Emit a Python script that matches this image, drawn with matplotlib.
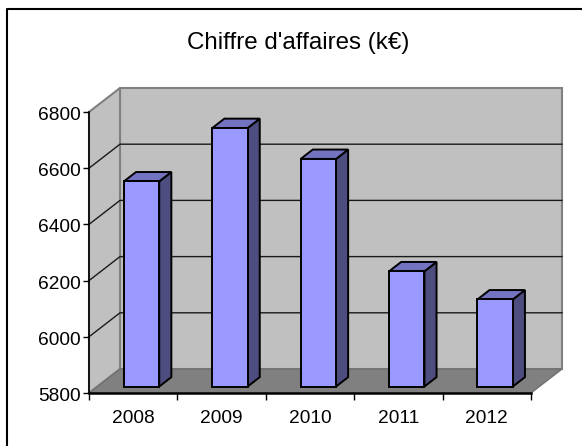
import numpy as np
from matplotlib import pyplot as plt
from matplotlib.lines import Line2D
from matplotlib.patches import Polygon
from matplotlib.transforms import ScaledTranslation

plt.rcParams['font.family'] = ['Liberation Sans', 'DejaVu Sans']

years = ['2008', '2009', '2010', '2011', '2012']
sales = [6530, 6720, 6610, 6210, 6110]
y_ticks = [5800, 6000, 6200, 6400, 6600, 6800]

W, H = 582, 446
# depth of the fake 3d box, in data units
DEPTH_X = 31 / 88.4
DEPTH_Y = 24 / 0.281
BAR_W = 0.4
Z0, Z1 = 0.27, 0.66


def project(x, y, z):
    return (x + z * DEPTH_X, y + z * DEPTH_Y)


def face(ax, pts, color, edge='black', lw=1.4, zo=2):
    ax.add_patch(Polygon([project(*p) for p in pts], closed=True, facecolor=color,
                         edgecolor=edge, linewidth=lw, joinstyle='miter', clip_on=False, zorder=zo))


fig = plt.figure(figsize=(W / 100, H / 100), dpi=100)
ax = fig.add_axes([89 / W, 1 - 393 / H, (531 - 89) / W, (393 - 112) / H])
ymin, ymax = y_ticks[0], y_ticks[-1]
n = len(years)
ax.set_xlim(0, n)
ax.set_ylim(ymin, ymax)
ax.patch.set_visible(False)

# walls and floor
face(ax, [(0, ymin, 1), (n, ymin, 1), (n, ymax, 1), (0, ymax, 1)], '#c0c0c0', '#808080', 1.5, 1)
face(ax, [(0, ymin, 0), (0, ymin, 1), (0, ymax, 1), (0, ymax, 0)], '#c0c0c0', '#808080', 1.5, 1)
face(ax, [(0, ymin, 0), (n, ymin, 0), (n, ymin, 1), (0, ymin, 1)], '#808080', '#707070', 1.0, 1)

# gridlines run along the side wall then the back wall
for v in y_ticks[1:-1]:
    xs, ys = zip(project(0, v, 0), project(0, v, 1), project(n, v, 1))
    ax.plot(xs, ys, color='#1a1a1a', lw=1.0, clip_on=False, zorder=1.5)

for i, v in enumerate(sales):
    x0, x1 = i + 0.5 - BAR_W / 2, i + 0.5 + BAR_W / 2
    face(ax, [(x1, ymin, Z0), (x1, ymin, Z1), (x1, v, Z1), (x1, v, Z0)], '#4d4d80')
    face(ax, [(x0, v, Z0), (x1, v, Z0), (x1, v, Z1), (x0, v, Z1)], '#7373bf')
    face(ax, [(x0, ymin, Z0), (x1, ymin, Z0), (x1, v, Z0), (x0, v, Z0)], '#9999ff')

for s in ['top', 'right']:
    ax.spines[s].set_visible(False)
ax.spines['left'].set_linewidth(1.2)
ax.spines['left'].set_zorder(3)
ax.spines['bottom'].set_linewidth(1.8)
ax.spines['bottom'].set_zorder(3)

ax.set_yticks(y_ticks)
ax.tick_params(axis='y', length=4, width=1.0, labelsize=13.8, pad=2)
# labels sit a bit lower than the tick in the original
shift = ScaledTranslation(0, -1.5 / 100, fig.dpi_scale_trans)
for lab in ax.get_yticklabels():
    lab.set_transform(lab.get_transform() + shift)
ax.set_xticks(np.arange(n + 1))
ax.tick_params(axis='x', which='major', length=5, width=1.0, labelbottom=False)
ax.set_xticks(np.arange(n) + 0.5, labels=years, minor=True)
ax.tick_params(axis='x', which='minor', length=0, labelsize=13.8, pad=12.5)

fig.text(298 / W, 1 - 42.5 / H, "Chiffre d'affaires (k€)", ha='center', va='center', fontsize=17.4)

# chart frame, only left and top edges are inside the picture
fig.add_artist(Line2D([7 / W, 7 / W, 1], [0, 1 - 9 / H, 1 - 9 / H], color='black', lw=1.5))

fig.savefig('out.png', dpi=100)
